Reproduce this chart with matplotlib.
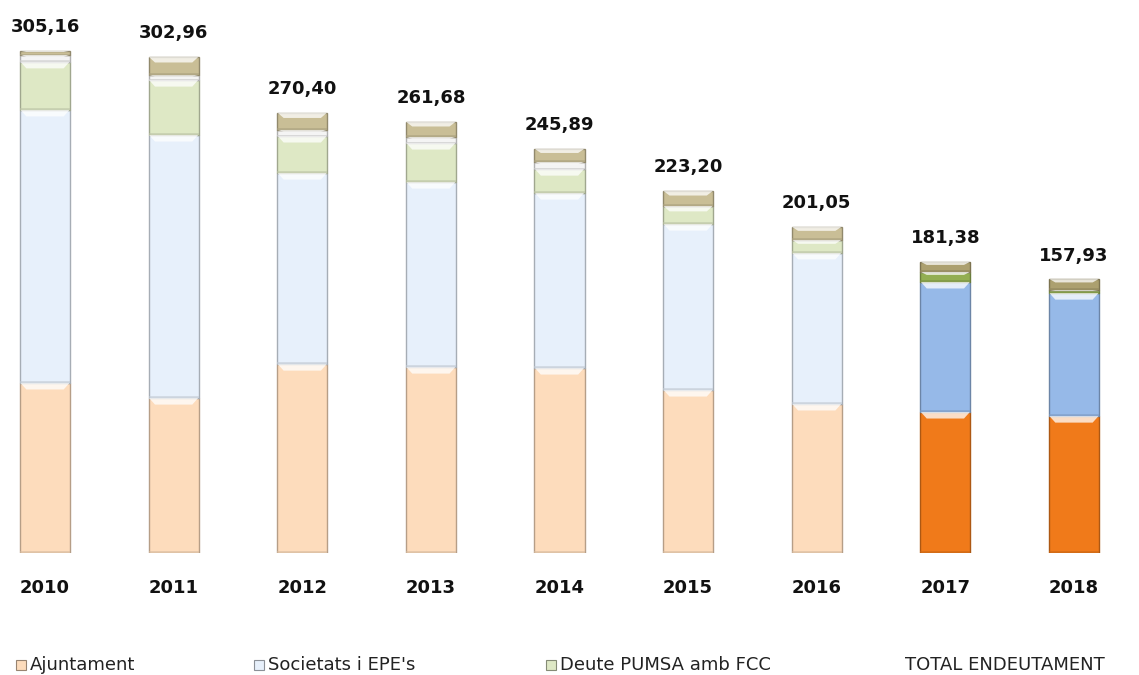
import numpy as np
import matplotlib.pyplot as plt
from matplotlib.patches import Polygon, Rectangle
from matplotlib.colors import to_rgb

# data (milions d'euros)
years = ['2010', '2011', '2012', '2013', '2014', '2015', '2016', '2017', '2018']
total_labels = ['305,16', '302,96', '270,40', '261,68', '245,89',
                '223,20', '201,05', '181,38', '157,93']
ajuntament = [103.7, 94.5, 115.2, 113.4, 112.8, 99.4, 90.9, 86.0, 83.5]
societats = [166.5, 160.4, 116.5, 112.8, 106.7, 101.2, 92.1, 79.3, 75.0]
pumsa = [29.3, 33.5, 22.6, 23.8, 14.6, 11.0, 7.9, 6.1, 1.8]
altres_a = [4.3, 3.0, 3.7, 3.7, 4.3, 0.0, 0.0, 0.0, 0.0]
altres_b = [2.4, 11.0, 10.4, 9.1, 7.9, 9.1, 7.9, 6.1, 6.7]

highlight = [False] * 7 + [True, True]

# pale colours for past years, strong colours for 2017-2018
pale = ['#FDDCBC', '#E7F0FB', '#DEE8C5', '#F4F4F4', '#C9BE96']
strong = ['#F07A1A', '#96B9E8', '#93AE52', '#F4F4F4', '#ACA06F']
series = [ajuntament, societats, pumsa, altres_a, altres_b]

fig = plt.figure(figsize=(11.39, 6.75), dpi=100)
ax = fig.add_axes([0.0, (675 - 553) / 675, 1119 / 1139, 553 / 675])

x = np.arange(len(years))
width = 0.39
bottom = np.zeros(len(years))


def darker(c, f=0.72):
    r, g, b = to_rgb(c)
    return (r * f, g * f, b * f)


for k, vals in enumerate(series):
    vals = np.array(vals)
    colors = [strong[k] if h else pale[k] for h in highlight]
    bars = ax.bar(x, vals, width, bottom=bottom, color=colors,
                  edgecolor=[darker(c) for c in colors], linewidth=1.0, zorder=3)
    # bevel highlight on top of each segment
    for b in bars:
        h = b.get_height()
        if h <= 0:
            continue
        x0, y0 = b.get_x(), b.get_y()
        x1, y1 = x0 + b.get_width(), y0 + h
        hh = min(4.0, h * 0.3)
        d = 0.05
        poly = Polygon([(x0 + 0.004, y1), (x1 - 0.004, y1), (x1 - d, y1 - hh),
                        (x0 + d, y1 - hh)], closed=True, facecolor='white',
                       edgecolor='none', alpha=0.75, zorder=4)
        ax.add_patch(poly)
        # darker bottom band
        ax.add_patch(Rectangle((x0, y0), b.get_width(), min(1.2, h * 0.2),
                               facecolor=darker(b.get_facecolor(), 0.85),
                               edgecolor='none', alpha=0.6, zorder=4))
    bottom = bottom + vals

for i, lab in enumerate(total_labels):
    ax.annotate(lab, (x[i], bottom[i]), xytext=(0, 17), textcoords='offset points',
                ha='center', va='center', fontsize=13, fontweight='bold',
                color='#111111')

ax.set_xlim(-0.35, len(years) - 1 + 0.35)
ax.set_ylim(0, 553 / 1.64)
ax.set_xticks(x)
ax.set_xticklabels(years, fontsize=13, fontweight='bold', color='#111111')
ax.tick_params(axis='x', length=0, pad=19)
ax.set_yticks([])
for s in ax.spines.values():
    s.set_visible(False)

# legend drawn at the bottom like the original
legend_items = [('Ajuntament', pale[0], 16), ("Societats i EPE's", pale[1], 254),
                ('Deute PUMSA amb FCC', pale[2], 546), ('TOTAL ENDEUTAMENT', None, 905)]
ly = (675 - 665) / 675
for text, col, px in legend_items:
    if col is not None:
        fig.add_artist(Rectangle((px / 1139, ly - 5 / 675), 10 / 1139, 10 / 675,
                                 transform=fig.transFigure, facecolor=col,
                                 edgecolor=darker(col, 0.6), linewidth=0.8))
        tx = (px + 14) / 1139
    else:
        tx = px / 1139
    fig.text(tx, ly, text, fontsize=13, va='center', ha='left', color='#222222')

fig.savefig('out.png', dpi=100)
